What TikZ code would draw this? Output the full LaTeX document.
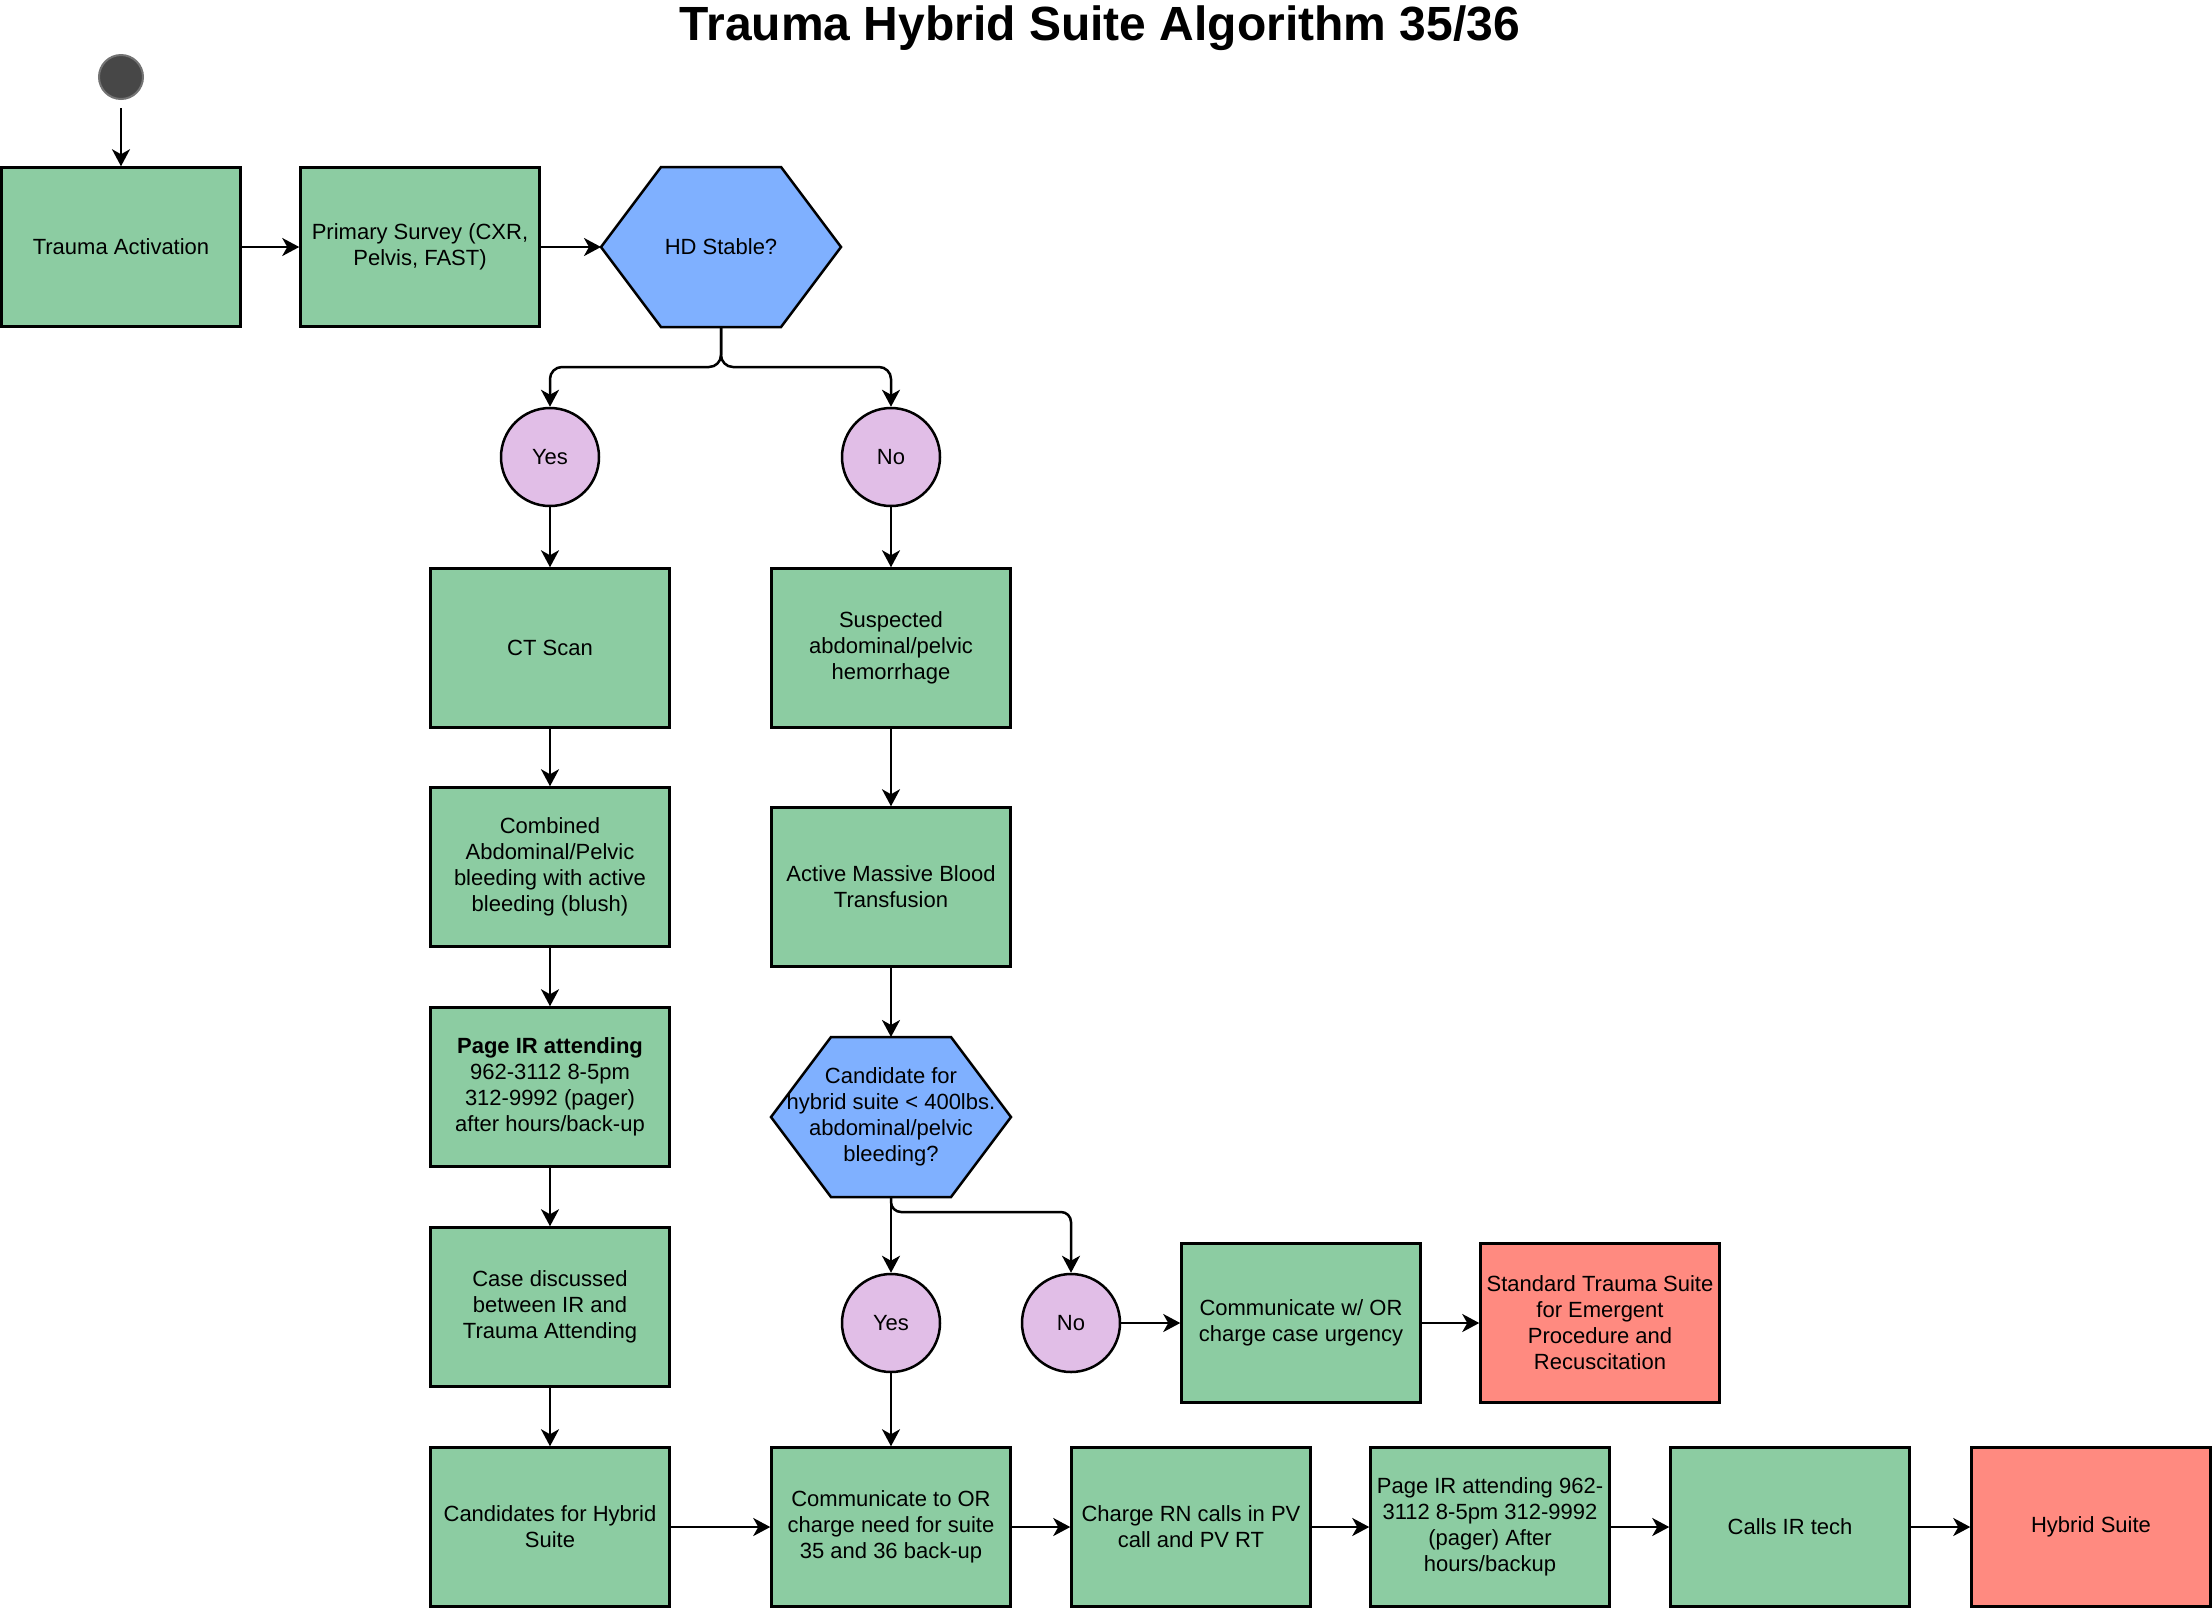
\documentclass[tikz,border=0pt]{standalone}
\usepackage{fontspec}
\setmainfont{Liberation Sans}
\usetikzlibrary{arrows.meta,backgrounds}
\definecolor{boxgreen}{RGB}{140,204,162}
\definecolor{hexblue}{RGB}{127,176,255}
\definecolor{circpink}{RGB}{225,190,231}
\definecolor{boxred}{RGB}{255,138,128}
\tikzset{
  box/.style={draw,line width=1.25pt,fill=boxgreen,minimum width=119.5pt,minimum height=79.5pt,align=center,inner sep=2pt},
  endbox/.style={box,fill=boxred},
  hexnode/.style={minimum width=120pt,minimum height=80pt,align=center,outer sep=0pt,inner sep=0pt},
  answer/.style={circle,draw,line width=1.25pt,fill=circpink,minimum size=49pt,inner sep=0pt},
  startdot/.style={circle,draw=black!55,fill=black!72,line width=1pt,minimum size=22pt,inner sep=0pt},
  conn/.style={line width=1.25pt,-{Stealth[length=8.5pt,width=9pt,inset=2.5pt]}},
}
\begin{document}
\begin{tikzpicture}[x=0.5pt,y=-0.5pt,font=\fontsize{11}{13}\selectfont]
\useasboundingbox (0,0) rectangle (2212,1608);
\node (title) at (1100,28) {\fontsize{24}{28}\selectfont\bfseries Trauma Hybrid Suite Algorithm 35/36};
\node[startdot] (start) at (121,77) {};
\node[box] (ta) at (121,247) {Trauma Activation};
\node[box] (prim) at (420,247) {Primary Survey (CXR,\\ Pelvis, FAST)};
\node[hexnode] (hd) at (721,247) {HD Stable?};
\node[answer] (yes1) at (550,457) {Yes};
\node[answer] (no1) at (891,457) {No};
\node[box] (ct) at (550,648) {CT Scan};
\node[box] (susp) at (891,648) {Suspected\\ abdominal/pelvic\\ hemorrhage};
\node[box] (comb) at (550,867) {Combined\\ Abdominal/Pelvic\\ bleeding with active\\ bleeding (blush)};
\node[box] (amt) at (891,887) {Active Massive Blood\\ Transfusion};
\node[box] (page) at (550,1087) {\textbf{Page IR attending}\\ 962-3112 8-5pm\\ 312-9992 (pager)\\ after hours/back-up};
\node[hexnode] (candh) at (891,1117) {Candidate for\\ hybrid suite < 400lbs.\\ abdominal/pelvic\\ bleeding?};
\node[box] (case) at (550,1307) {Case discussed\\ between IR and\\ Trauma Attending};
\node[answer] (yes2) at (891,1323) {Yes};
\node[answer] (no2) at (1071,1323) {No};
\node[box] (comw) at (1301,1323) {Communicate w/ OR\\ charge case urgency};
\node[endbox] (std) at (1600,1323) {Standard Trauma Suite\\ for Emergent\\ Procedure and\\ Recuscitation};
\node[box] (cands) at (550,1527) {Candidates for Hybrid\\ Suite};
\node[box] (comto) at (891,1527) {Communicate to OR\\ charge need for suite\\ 35 and 36 back-up};
\node[box] (chrn) at (1191,1527) {Charge RN calls in PV\\ call and PV RT};
\node[box] (pageb) at (1490,1527) {Page IR attending 962-\\ 3112 8-5pm 312-9992\\ (pager) After\\ hours/backup};
\node[box] (calls) at (1790,1527) {Calls IR tech};
\node[endbox] (hyb) at (2091,1527) {Hybrid Suite};
\begin{scope}[on background layer]
  \foreach \h in {hd,candh}
    \draw[line width=1.25pt,fill=hexblue] (\h.west) -- ([xshift=30pt]\h.north west) -- ([xshift=-30pt]\h.north east)
      -- (\h.east) -- ([xshift=-30pt]\h.south east) -- ([xshift=30pt]\h.south west) -- cycle;
\end{scope}
\draw[conn,shorten <=4pt] (start) -- (ta);
\draw[conn] (ta) -- (prim);
\draw[conn] (prim) -- (hd);
\draw[conn,rounded corners=6pt] (hd.south) -- ++(0,40) -| (yes1.north);
\draw[conn,rounded corners=6pt] (hd.south) -- ++(0,40) -| (no1.north);
\draw[conn] (yes1) -- (ct);
\draw[conn] (ct) -- (comb);
\draw[conn] (comb) -- (page);
\draw[conn] (page) -- (case);
\draw[conn] (case) -- (cands);
\draw[conn] (no1) -- (susp);
\draw[conn] (susp) -- (amt);
\draw[conn] (amt) -- (candh);
\draw[conn] (candh) -- (yes2);
\draw[conn,rounded corners=5pt] (candh.south) -- ++(0,15) -| (no2.north);
\draw[conn] (no2) -- (comw);
\draw[conn] (comw) -- (std);
\draw[conn] (yes2) -- (comto);
\draw[conn] (cands) -- (comto);
\draw[conn] (comto) -- (chrn);
\draw[conn] (chrn) -- (pageb);
\draw[conn] (pageb) -- (calls);
\draw[conn] (calls) -- (hyb);
\end{tikzpicture}
\end{document}
